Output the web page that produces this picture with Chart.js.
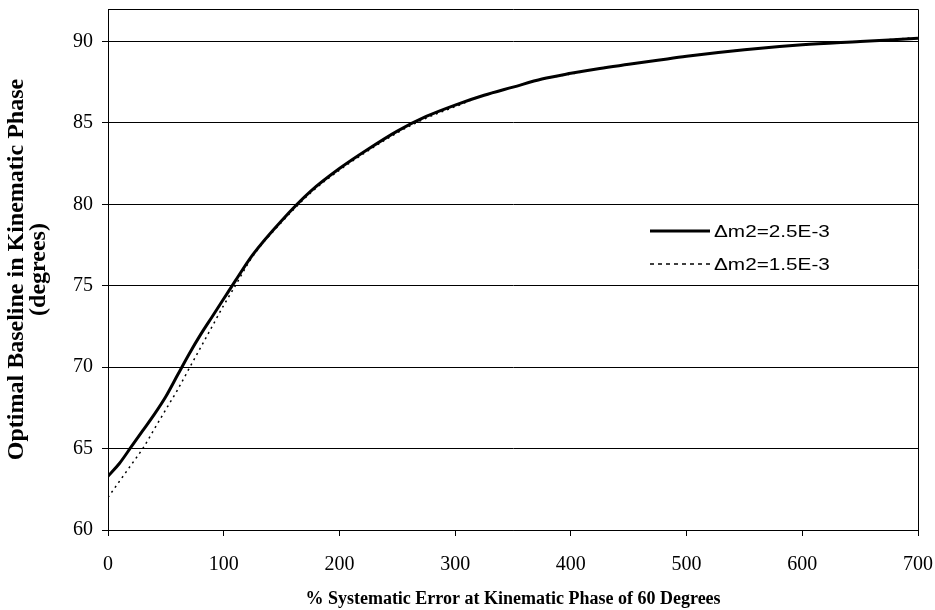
<!DOCTYPE html>
<html>
<head>
<meta charset="utf-8">
<script src="https://cdn.jsdelivr.net/npm/chart.js@4/dist/chart.umd.min.js"></script>
<style>
  html, body { margin: 0; padding: 0; background: #fff; }
  #wrap { width: 935px; height: 610px; }
</style>
</head>
<body>
<div id="wrap"><canvas id="chart" width="935" height="610"></canvas></div>
<script>
const xValues = [0, 10, 20, 30, 40, 50, 60, 70, 80, 90, 100, 110, 125, 150, 175, 200, 225, 250, 275, 300, 325, 350, 375, 400, 425, 450, 475, 500, 550, 600, 650, 700];
const dm25 = [63.3, 64.1, 65.1, 66.1, 67.1, 68.2, 69.5, 70.8, 72.0, 73.1, 74.2, 75.3, 76.9, 79.0, 80.8, 82.2, 83.4, 84.5, 85.4, 86.1, 86.7, 87.2, 87.7, 88.05, 88.35, 88.6, 88.85, 89.1, 89.5, 89.8, 90.0, 90.2];
const dm15 = [62.0, 63.0, 64.0, 65.0, 66.2, 67.4, 68.6, 69.9, 71.2, 72.5, 73.8, 75.0, 76.8, 78.9, 80.7, 82.1, 83.3, 84.4, 85.3, 86.0, 86.7, 87.2, 87.7, 88.0, 88.35, 88.6, 88.85, 89.1, 89.5, 89.8, 90.0, 90.25];
const seriesNames = ['\u0394m2=2.5E-3', '\u0394m2=1.5E-3'];
const xTicks = [0, 100, 200, 300, 400, 500, 600, 700];
const yTicks = [60, 65, 70, 75, 80, 85, 90];

const serif = "'Liberation Serif', 'Times New Roman', serif";

// legend drawn inside the plot, Excel style
const insideLegend = {
  id: 'insideLegend',
  afterDraw(chart) {
    const c = chart.ctx;
    const rows = [231, 264];
    c.save();
    // plot border (top + right)
    const a = chart.chartArea;
    c.strokeStyle = '#000';
    c.lineWidth = 1;
    c.beginPath();
    c.moveTo(a.left, a.top + 0.5);
    c.lineTo(a.right + 0.5, a.top + 0.5);
    c.lineTo(a.right + 0.5, a.bottom);
    c.stroke();

    chart.data.datasets.forEach((ds, i) => {
      c.strokeStyle = ds.borderColor;
      c.lineWidth = ds.borderWidth;
      c.setLineDash(i === 0 ? [] : [4, 4]);
      c.beginPath();
      c.moveTo(650, rows[i]);
      c.lineTo(710, rows[i]);
      c.stroke();
      c.setLineDash([]);
      c.fillStyle = '#000';
      c.font = "17px 'Liberation Sans', Arial, sans-serif";
      c.textBaseline = 'middle';
      c.save();
      c.translate(714, rows[i] + 1);
      c.scale(1.22, 1);
      c.fillText(ds.label, 0, 0);
      c.restore();
    });
    c.restore();
  }
};

new Chart(document.getElementById('chart').getContext('2d'), {
  type: 'line',
  data: {
    labels: xValues,
    datasets: [
      {
        label: seriesNames[0],
        data: xValues.map((x, i) => ({ x: x, y: dm25[i] })),
        borderColor: '#000',
        borderWidth: 3,
        pointRadius: 0,
        cubicInterpolationMode: 'monotone',
        fill: false
      },
      {
        label: seriesNames[1],
        data: xValues.map((x, i) => ({ x: x, y: dm15[i] })),
        borderColor: '#000',
        borderWidth: 1.5,
        borderDash: [2, 4],
        pointRadius: 0,
        cubicInterpolationMode: 'monotone',
        fill: false
      }
    ]
  },
  options: {
    responsive: false,
    animation: false,
    layout: { padding: { top: 9, right: 17, left: 0, bottom: 0 } },
    plugins: {
      legend: { display: false },
      tooltip: { enabled: false }
    },
    scales: {
      x: {
        type: 'linear',
        min: 0,
        max: 700,
        afterBuildTicks: s => { s.ticks = xTicks.map(v => ({ value: v })); },
        afterFit: s => { s.height = 80; s.paddingLeft = 0; s.paddingRight = 0; },
        border: { display: true, color: '#000', width: 1 },
        grid: { drawOnChartArea: false, drawTicks: true, tickLength: 6, color: '#000' },
        ticks: { color: '#000', font: { family: serif, size: 20 }, padding: 17, maxRotation: 0 },
        title: {
          display: true,
          text: '% Systematic Error at Kinematic Phase of 60 Degrees',
          color: '#000',
          font: { family: serif, size: 18, weight: 'bold' },
          padding: { top: 4, bottom: 0 }
        }
      },
      y: {
        min: 60,
        max: 92,
        afterBuildTicks: s => { s.ticks = yTicks.map(v => ({ value: v })); },
        afterFit: s => { s.width = 108; s.paddingTop = 0; s.paddingBottom = 0; },
        border: { display: true, color: '#000', width: 1 },
        grid: { color: '#000', lineWidth: 1, drawTicks: true, tickLength: 6 },
        ticks: { color: '#000', font: { family: serif, size: 20 }, padding: 9 },
        title: {
          display: true,
          text: ['Optimal Baseline in Kinematic Phase', '(degrees)'],
          color: '#000',
          font: { family: serif, size: 24, weight: 'bold', lineHeight: 0.92 },
          padding: { top: 6, bottom: 0 }
        }
      }
    }
  },
  plugins: [insideLegend]
});
</script>
</body>
</html>
